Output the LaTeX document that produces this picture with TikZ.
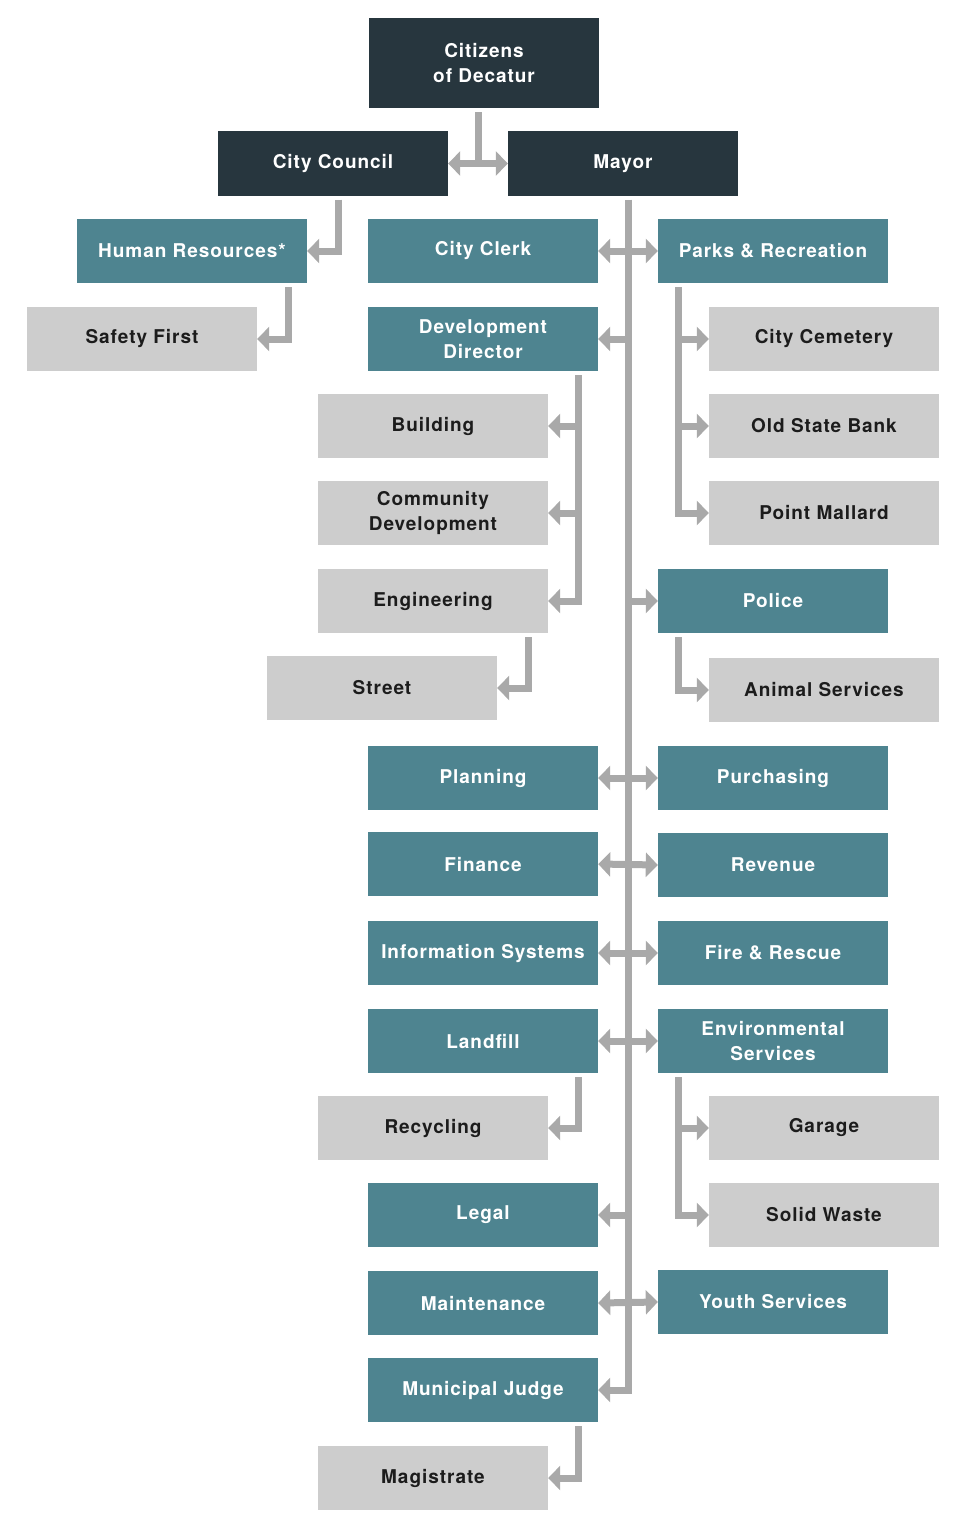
\documentclass[tikz,border=0pt]{standalone}
\usepackage{fontspec}
\setmainfont{TeX Gyre Heros}[LetterSpace=5]
\usetikzlibrary{arrows.meta}
\definecolor{topc}{HTML}{27363E}
\definecolor{tealc}{HTML}{4E8490}
\definecolor{greyc}{HTML}{CDCDCD}
\definecolor{linec}{HTML}{A9A9A9}
\definecolor{inkc}{HTML}{1C1C1C}
\begin{document}
\begin{tikzpicture}[x=1pt,y=-1pt]
    \tikzstyle{bx} = [minimum width=230pt,minimum height=64pt,inner sep=0pt,align=center,
      font=\fontsize{19}{25}\selectfont\bfseries] %box
    \tikzstyle{top} = [bx,fill=topc,text=white] %top level
    \tikzstyle{dept} = [bx,fill=tealc,text=white] %department
    \tikzstyle{sub} = [bx,fill=greyc,text=inkc] %division
    \tikzstyle{conn} = [draw=linec,line width=7pt,
      >={Triangle[width=24pt,length=12pt]}] %connector
    \useasboundingbox (0,0) rectangle (965,1536);
    % top
    \node[top,minimum height=90pt](citizens)at(484,63){Citizens\\of Decatur};
    \node[top](council)at(333,163.5){City Council};
    \node[top](mayor)at(623,163.5){Mayor};
    % left column
    \node[dept](hr)at(192,251){Human Resources*};
    \node[sub](safety)at(142,339){Safety First};
    \node[dept](clerk)at(483,251){City Clerk};
    \node[dept](devdir)at(483,339){Development\\Director};
    \node[sub](building)at(433,426){Building};
    \node[sub](community)at(433,513){Community\\Development};
    \node[sub](engineering)at(433,601){Engineering};
    \node[sub](street)at(382,688){Street};
    \node[dept](planning)at(483,778){Planning};
    \node[dept](finance)at(483,864){Finance};
    \node[dept](infosys)at(483,953){Information Systems};
    \node[dept](landfill)at(483,1041){Landfill};
    \node[sub](recycling)at(433,1128){Recycling};
    \node[dept](legal)at(483,1215){Legal};
    \node[dept](maintenance)at(483,1303){Maintenance};
    \node[dept](judge)at(483,1390){Municipal Judge};
    \node[sub](magistrate)at(433,1478){Magistrate};
    % right column
    \node[dept](parks)at(773,251){Parks \& Recreation};
    \node[sub](cemetery)at(824,339){City Cemetery};
    \node[sub](bank)at(824,426){Old State Bank};
    \node[sub](mallard)at(824,513){Point Mallard};
    \node[dept](police)at(773,601){Police};
    \node[sub](animal)at(824,690){Animal Services};
    \node[dept](purchasing)at(773,778){Purchasing};
    \node[dept](revenue)at(773,865){Revenue};
    \node[dept](fire)at(773,953){Fire \& Rescue};
    \node[dept](env)at(773,1041){Environmental\\Services};
    \node[sub](garage)at(824,1128){Garage};
    \node[sub](solidwaste)at(824,1215){Solid Waste};
    \node[dept](youth)at(773,1302){Youth Services};
    % citizens to council and mayor
    \coordinate(cz)at([xshift=-6pt,yshift=-4pt]citizens.south);
    \draw[conn](cz)--(cz|-council.east);
    \draw[conn,<->](council.east)--(mayor.west);
    \draw[conn,->]([xshift=5pt,yshift=-4pt]council.south)|-(hr.east);
    \draw[conn,->]([xshift=-19pt,yshift=-4pt]hr.south east)|-(safety.east);
    % mayor spine
    \coordinate(sp)at([xshift=5pt,yshift=-4pt]mayor.south);
    \draw[conn,->](sp)|-(judge.east);
    \draw[conn,<->](clerk.east)--(parks.west);
    \draw[conn,->](sp|-devdir.east)--(devdir.east);
    \draw[conn,->](sp|-police.west)--(police.west);
    \draw[conn,<->](planning.east)--(purchasing.west);
    \draw[conn,<->](finance.east)--(revenue.west);
    \draw[conn,<->](infosys.east)--(fire.west);
    \draw[conn,<->](landfill.east)--(env.west);
    \draw[conn,->](sp|-legal.east)--(legal.east);
    \draw[conn,<->](maintenance.east)--(youth.west);
    % branches
    \coordinate(dv)at([xshift=-20pt,yshift=-4pt]devdir.south east);
    \draw[conn,->](dv)|-(engineering.east);
    \draw[conn,->](dv|-building.east)--(building.east);
    \draw[conn,->](dv|-community.east)--(community.east);
    \draw[conn,->]([xshift=-20pt,yshift=-4pt]engineering.south east)|-(street.east);
    \coordinate(pk)at([xshift=21pt,yshift=-4pt]parks.south west);
    \draw[conn,->](pk)|-(mallard.west);
    \draw[conn,->](pk|-cemetery.west)--(cemetery.west);
    \draw[conn,->](pk|-bank.west)--(bank.west);
    \draw[conn,->]([xshift=21pt,yshift=-4pt]police.south west)|-(animal.west);
    \draw[conn,->]([xshift=-20pt,yshift=-4pt]landfill.south east)|-(recycling.east);
    \coordinate(ev)at([xshift=21pt,yshift=-4pt]env.south west);
    \draw[conn,->](ev)|-(solidwaste.west);
    \draw[conn,->](ev|-garage.west)--(garage.west);
    \draw[conn,->]([xshift=-20pt,yshift=-4pt]judge.south east)|-(magistrate.east);
  \end{tikzpicture}
\end{document}
